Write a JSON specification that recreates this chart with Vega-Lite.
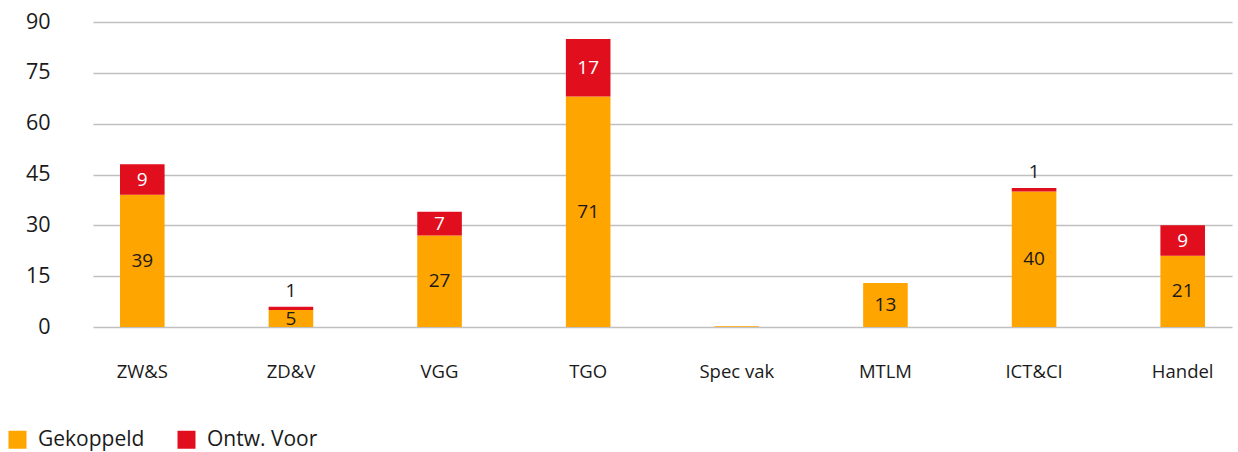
{
  "$schema": "https://vega.github.io/schema/vega-lite/v6.json",
  "width": 1139,
  "height": 305,
  "autosize": "none",
  "padding": {"left": 93, "top": 22, "right": 6, "bottom": 125},
  "background": "white",
  "config": {
    "font": "Open Sans",
    "view": {"stroke": null},
    "axis": {"labelFont": "Open Sans", "labelColor": "#1a1a1a"},
    "legend": {"labelFont": "Open Sans"}
  },
  "data": {
    "values": [
      {"cat": "ZW&S", "series": "Gekoppeld", "ord": 1, "value": 39, "label": "39"},
      {"cat": "ZW&S", "series": "Ontw. Voor", "ord": 2, "value": 9, "label": "9"},
      {"cat": "ZD&V", "series": "Gekoppeld", "ord": 1, "value": 5, "label": "5"},
      {"cat": "ZD&V", "series": "Ontw. Voor", "ord": 2, "value": 1, "label": "1"},
      {"cat": "VGG", "series": "Gekoppeld", "ord": 1, "value": 27, "label": "27"},
      {"cat": "VGG", "series": "Ontw. Voor", "ord": 2, "value": 7, "label": "7"},
      {"cat": "TGO", "series": "Gekoppeld", "ord": 1, "value": 68, "label": "71"},
      {"cat": "TGO", "series": "Ontw. Voor", "ord": 2, "value": 17, "label": "17"},
      {"cat": "Spec vak", "series": "Gekoppeld", "ord": 1, "value": 0.2, "label": null},
      {"cat": "MTLM", "series": "Gekoppeld", "ord": 1, "value": 13, "label": "13"},
      {"cat": "ICT&CI", "series": "Gekoppeld", "ord": 1, "value": 40, "label": "40"},
      {"cat": "ICT&CI", "series": "Ontw. Voor", "ord": 2, "value": 1, "label": "1"},
      {"cat": "Handel", "series": "Gekoppeld", "ord": 1, "value": 21, "label": "21"},
      {"cat": "Handel", "series": "Ontw. Voor", "ord": 2, "value": 9, "label": "9"}
    ]
  },
  "transform": [
    {"stack": "value", "groupby": ["cat"], "sort": [{"field": "ord", "order": "ascending"}], "as": ["y0", "y1"]},
    {"calculate": "(datum.y0 + datum.y1) / 2", "as": "ymid"}
  ],
  "encoding": {
    "x": {
      "field": "cat",
      "type": "nominal",
      "sort": ["ZW&S", "ZD&V", "VGG", "TGO", "Spec vak", "MTLM", "ICT&CI", "Handel"],
      "scale": {"paddingInner": 0.7, "paddingOuter": 0.1817},
      "axis": {
        "title": null,
        "domain": false,
        "ticks": false,
        "labelAngle": 0,
        "labelFontSize": 18.5,
        "labelPadding": 35,
        "grid": false
      }
    }
  },
  "layer": [
    {
      "mark": {"type": "bar"},
      "encoding": {
        "y": {
          "field": "y1",
          "type": "quantitative",
          "scale": {"domain": [0, 90], "nice": false},
          "axis": {
            "title": null,
            "values": [0, 15, 30, 45, 60, 75, 90],
            "domain": false,
            "ticks": false,
            "labelFontSize": 21.5,
            "labelPadding": 43,
            "gridColor": "#c0c0c0",
            "gridWidth": 1.3
          }
        },
        "y2": {"field": "y0"},
        "color": {
          "field": "series",
          "type": "nominal",
          "scale": {"domain": ["Gekoppeld", "Ontw. Voor"], "range": ["#FFA500", "#E10E1E"]},
          "legend": {
            "title": null,
            "orient": "none",
            "direction": "horizontal",
            "legendX": -86,
            "legendY": 407,
            "padding": 0,
            "symbolType": "square",
            "symbolSize": 324,
            "symbolStrokeWidth": 0,
            "labelFontSize": 21,
            "labelColor": "#1a1a1a",
            "labelOffset": 10,
            "columnPadding": 31
          }
        }
      }
    },
    {
      "transform": [{"filter": "datum.label != null && !(datum.series == 'Ontw. Voor' && datum.value < 3)"}],
      "mark": {"type": "text", "fontSize": 19, "baseline": "middle", "align": "center"},
      "encoding": {
        "y": {"field": "ymid", "type": "quantitative"},
        "text": {"field": "label"},
        "color": {"condition": {"test": "datum.series == 'Ontw. Voor'", "value": "white"}, "value": "#1a1a1a"}
      }
    },
    {
      "transform": [{"filter": "datum.label != null && datum.series == 'Ontw. Voor' && datum.value < 3"}],
      "mark": {"type": "text", "fontSize": 19, "baseline": "middle", "align": "center", "dy": -16, "color": "#1a1a1a"},
      "encoding": {
        "y": {"field": "y1", "type": "quantitative"},
        "text": {"field": "label"}
      }
    }
  ]
}
